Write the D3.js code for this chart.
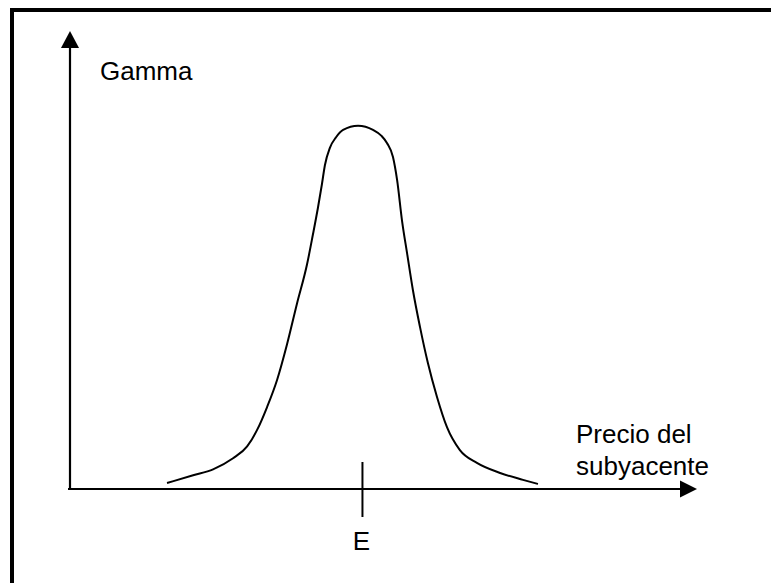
<!DOCTYPE html>
<html>
<head>
<meta charset="utf-8">
<script src="https://cdn.jsdelivr.net/npm/d3@7"></script>
<style>
  html, body { margin: 0; padding: 0; background: #fff; }
  svg { display: block; }
  text { font-family: "Liberation Sans", Arial, sans-serif; fill: #000; }
</style>
</head>
<body>
<script>
// Gamma of an option as a function of the underlying price (schematic)
const price = [33.4, 42.3, 49.1, 55.9, 60.7, 64.1, 67.5, 70.9, 74.3, 77.7, 81.1, 83.1, 84.8, 86.2, 87.2, 88.9, 91.0, 93.4, 98.5, 103.6, 106.5, 108.4, 110.4, 111.8, 113.5, 115.2, 117.2, 119.6, 122.3, 125.4, 128.8, 133.2, 139.0, 146.9, 154.7, 159.8];
const gamma = [0.013, 0.030, 0.043, 0.067, 0.093, 0.129, 0.179, 0.238, 0.316, 0.405, 0.490, 0.555, 0.613, 0.666, 0.707, 0.745, 0.768, 0.784, 0.793, 0.784, 0.771, 0.755, 0.725, 0.675, 0.585, 0.515, 0.434, 0.354, 0.275, 0.201, 0.135, 0.085, 0.057, 0.035, 0.020, 0.011];
const strike = [100];
const strikeLabel = ["E"];
const yTitle = ["Gamma"];
const xTitle = ["Precio del", "subyacente"];

const W = 771, H = 583;
const svg = d3.select("body").append("svg").attr("width", W).attr("height", H);

const x = d3.scaleLinear().domain([0, 214]).range([69, 697]);
const y = d3.scaleLinear().domain([0, 1]).range([489, 31]);

// frame (top and left edges)
svg.append("path")
  .attr("d", `M12,583 L12,10 L771,10`)
  .attr("fill", "none").attr("stroke", "#000").attr("stroke-width", 4);

// x axis with arrow
const x0 = x.range()[0], x1 = x.range()[1], yb = y(0);
svg.append("line")
  .attr("x1", x0 - 1).attr("y1", yb).attr("x2", x1 - 14).attr("y2", yb)
  .attr("stroke", "#000").attr("stroke-width", 2.2);
svg.append("path")
  .attr("d", `M${x1},${yb} L${x1 - 17},${yb - 8.5} L${x1 - 17},${yb + 8.5} Z`)
  .attr("fill", "#000");

// y axis with arrow
const ytop = y.range()[1];
svg.append("line")
  .attr("x1", x0 + 1).attr("y1", yb + 1).attr("x2", x0 + 1).attr("y2", ytop + 14)
  .attr("stroke", "#000").attr("stroke-width", 2.2);
svg.append("path")
  .attr("d", `M${x0 + 1},${ytop} L${x0 - 8},${ytop + 17} L${x0 + 10},${ytop + 17} Z`)
  .attr("fill", "#000");

// strike tick and label
svg.selectAll(".strike").data(strike).join("line")
  .attr("x1", d => x(d)).attr("x2", d => x(d))
  .attr("y1", yb - 27).attr("y2", yb + 28)
  .attr("stroke", "#000").attr("stroke-width", 2);
svg.selectAll(".strikeLabel").data(strike).join("text")
  .attr("x", d => x(d) - 1).attr("y", 550)
  .attr("text-anchor", "middle").attr("font-size", 26)
  .text((d, i) => strikeLabel[i]);

// gamma curve
const pts = price.map((p, i) => [p, gamma[i]]);
svg.append("path")
  .datum(pts)
  .attr("fill", "none").attr("stroke", "#000").attr("stroke-width", 2)
  .attr("stroke-linejoin", "round")
  .attr("d", d3.line().x(d => x(d[0])).y(d => y(d[1])).curve(d3.curveMonotoneX));

// axis titles
svg.append("text").attr("x", 100).attr("y", 80).attr("font-size", 26).text(yTitle[0]);
svg.selectAll(".xt").data(xTitle).join("text")
  .attr("x", 576).attr("y", (d, i) => 443 + i * 32)
  .attr("font-size", 26).text(d => d);
</script>
</body>
</html>
